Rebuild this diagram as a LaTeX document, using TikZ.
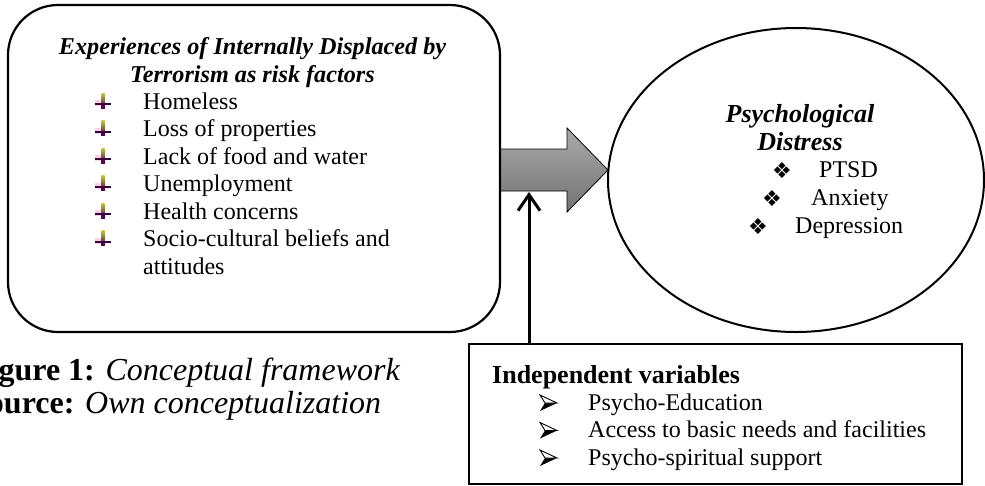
\documentclass[tikz,border=0pt]{standalone}
\usepackage{fontspec}
\setmainfont{Liberation Serif}
\newfontfamily\dingfont{DejaVu Sans}
\usetikzlibrary{shapes.geometric,arrows.meta}
\begin{document}
\begin{tikzpicture}[x=1pt,y=-1pt,
  body/.style={font=\fontsize{24}{27.5}\selectfont, inner sep=0pt},
  headbi/.style={font=\fontsize{24.2}{28}\selectfont\bfseries\itshape, inner sep=0pt},
  headb/.style={font=\fontsize{26}{29}\selectfont\bfseries, inner sep=0pt},
  caption/.style={font=\fontsize{32}{36}\selectfont, inner sep=0pt, anchor=base west},
  ding/.style={font=\fontsize{22}{24}\selectfont\dingfont, inner sep=0pt, anchor=base},
  frame/.style={draw=black, line width=2.2pt, fill=white, inner sep=0pt},
  riskmark/.pic={
    \fill[magenta!30, opacity=.6] (-8,-9) rectangle (-2,-3);
    \shade[top color=yellow!55!gray, bottom color=violet!55!black] (-1.5,-16) rectangle (1.5,-1);
    \fill[violet!45!black] (-8,-6) rectangle (8,-3.8);
    \fill[violet!70!black] (-2,-3.8) rectangle (2,-0.5);
  },
  arrowmark/.pic={
    \fill[black] (-8,1) -- (-3,-7) -- (9,-7) -- cycle;
    \draw[black, line width=0.9pt, line join=miter, fill=white] (-8,-15) -- (9,-7) -- (-3,-7) -- cycle;
  }
]
\useasboundingbox (0,0) rectangle (985,485);
\clip (0,0) rectangle (985,485);
\fill[white] (0,0) rectangle (985,485);

% block arrow between the two shapes
\shade[top color=black!33, bottom color=black!55, draw=black, line width=0.8pt]
  (500,149) coordinate (shaftA) -- (567,149) -- (567,128) -- (608,170) coordinate (tipA)
  -- (567,212) -- (567,191) -- (500,191) -- cycle;

% risk factors box
\node[frame, rounded corners=50pt, minimum width=492pt, minimum height=327pt] (risk) at (254,168.5) {};
\node[headbi, anchor=base] (t1) at (252.5,54) {Experiences of Internally Displaced by};
\node[headbi, anchor=base] (t2) at (252.5,82) {Terrorism as risk factors};
\foreach \y/\n in {109/m1,136.5/m2,164/m3,191.5/m4,219/m5,246.5/m6}
  \pic (\n) at (103,\y) {riskmark};
\node[body, anchor=base west] (r1) at (143,109) {Homeless};
\node[body, anchor=base west] (r2) at (143,136.5) {Loss of properties};
\node[body, anchor=base west] (r3) at (143,164) {Lack of food and water};
\node[body, anchor=base west] (r4) at (143,191.5) {Unemployment};
\node[body, anchor=base west] (r5) at (143,219) {Health concerns};
\node[body, anchor=base west] (r6) at (143,246.5) {Socio-cultural beliefs and};
\node[body, anchor=base west] (r7) at (143,274) {attitudes};

% outcome ellipse
\node[frame, line width=2pt, ellipse, minimum width=376pt, minimum height=304pt] (distress) at (796,180) {};
\node[headb, font=\fontsize{26}{29}\selectfont\bfseries\itshape, anchor=base] (p1) at (800,122) {Psychological};
\node[headb, font=\fontsize{26}{29}\selectfont\bfseries\itshape, anchor=base] (p2) at (800,150) {Distress};
\node[ding] (d1) at (782,178) {❖};
\node[ding] (d2) at (772,206) {❖};
\node[ding] (d3) at (758,234) {❖};
\node[body, anchor=base west] (o1) at (819,177) {PTSD};
\node[body, anchor=base west] (o2) at (811,205) {Anxiety};
\node[body, anchor=base west] (o3) at (795,233) {Depression};

% independent variables box
\node[frame, minimum width=493pt, minimum height=140pt] (vars) at (715.5,414) {};
\node[headb, anchor=base west] (v0) at (492,383) {Independent variables};
\foreach \y/\n in {410/a1,437.5/a2,465/a3}
  \pic (\n) at (548,\y) {arrowmark};
\node[body, anchor=base west] (v1) at (588,410) {Psycho-Education};
\node[body, anchor=base west] (v2) at (588,437.5) {Access to basic needs and facilities};
\node[body, anchor=base west] (v3) at (588,465) {Psycho-spiritual support};

% moderating arrow into the block arrow
\coordinate (tipV) at (529,192);
\draw[line width=3pt, -{Straight Barb[length=16pt,width=22pt]}] (tipV |- vars.north) -- (tipV);

% caption
\node[caption] (cap1) at (-30,380) {\textbf{Figure 1:} \textit{Conceptual framework}};
\node[caption] (cap2) at (-30,413) {\textbf{Source:} \textit{Own conceptualization}};
\end{tikzpicture}
\end{document}
